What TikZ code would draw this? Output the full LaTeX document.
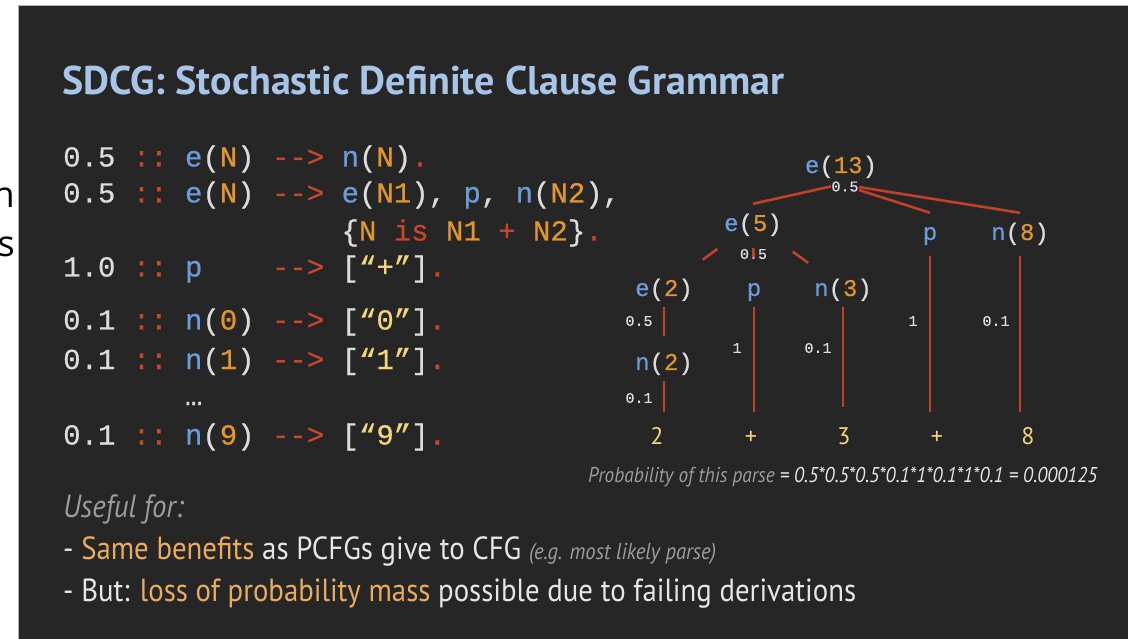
\documentclass[tikz,border=0pt]{standalone}
\usepackage{fontspec}
\usepackage{xcolor}
\setmonofont{Liberation Mono}[FakeBold=0.6]
\newfontfamily\slidefont{PT Sans}
\newfontfamily\narrowfont{PT Sans}[FakeStretch=0.9]
\newfontfamily\marginfont{Open Sans}
\definecolor{slidebg}{HTML}{262626}
\definecolor{frame}{HTML}{B4B4B4}
\definecolor{titleblue}{HTML}{A8C5E8}
\definecolor{codegray}{HTML}{DCDCDC}
\definecolor{codered}{HTML}{C8462C}
\definecolor{codeblue}{HTML}{6C9CD8}
\definecolor{codeorange}{HTML}{E0952F}
\definecolor{codeyellow}{HTML}{F2D57C}
\definecolor{accent}{HTML}{E8AC60}
\definecolor{bodywhite}{HTML}{E6E6E6}
\definecolor{mutedgray}{HTML}{9C9C9C}
\definecolor{edgered}{HTML}{C0412A}
\newcommand{\kw}[1]{\textcolor{codered}{#1}}
\newcommand{\fn}[1]{\textcolor{codeblue}{#1}}
\newcommand{\vr}[1]{\textcolor{codeorange}{#1}}
\newcommand{\lit}[1]{\textcolor{codeyellow}{#1}}
\newcommand{\hl}[1]{\textcolor{accent}{#1}}
\tikzset{code/.style={anchor=base west,inner sep=0,text=codegray,font=\fontsize{29}{34}\ttfamily},
tnode/.style={inner sep=0,inner ysep=11pt,text height=16pt,text depth=0pt,text=codegray,font=\fontsize{24}{28}\ttfamily},
leaf/.style={inner sep=0,inner ysep=15.5pt,text height=17pt,text depth=0pt,text=codeyellow,font=\slidefont\fontsize{24}{28}\selectfont},
elabel/.style={inner sep=.5pt,text=codegray,font=\fontsize{15}{18}\ttfamily},
edge/.style={edgered,line width=2.6pt},
body/.style={anchor=base west,inner sep=0,text=bodywhite,font=\narrowfont\fontsize{32}{38}\selectfont}}

\begin{document}
\begin{tikzpicture}[x=1pt,y=-1pt]
\useasboundingbox (0,0) rectangle (1128,639);
\fill[white] (0,0) rectangle (1128,639);
% cut letters of the slide before
\begin{scope}
\clip (0,0) rectangle (18,639);
\node[anchor=base east,inner sep=0,font=\marginfont\fontsize{36}{40}\selectfont] (cutn) at (15,208) {n};
\node[anchor=base east,inner sep=0,font=\marginfont\fontsize{36}{40}\selectfont] (cuts) at (15,257) {s};
\end{scope}
\fill[slidebg] (18,6) rectangle (1128,639);
\draw[frame,line width=1pt] (1128,6) -- (18,6) -- (18,639);
\node[anchor=base west,inner sep=0,text=titleblue,font=\slidefont\bfseries\fontsize{40}{46}\selectfont] (title) at (62,95) {SDCG: Stochastic Definite Clause Grammar};
% grammar rules
\node[code] (r1) at (63,166.5) {0.5 \kw{::} \fn{e}(\vr{N}) \kw{-{}->} \fn{n}(\vr{N})\kw{.}};
\node[code] (r2) at (63,202.5) {0.5 \kw{::} \fn{e}(\vr{N}) \kw{-{}->} \fn{e}(\vr{N1}), \fn{p}, \fn{n}(\vr{N2}),};
\node[code] (r2b) at (341.4,240.5) {\{\vr{N} \kw{is} \vr{N1} \kw{+} \vr{N2}\}\kw{.}};
\node[code] (r3) at (63,276.5) {1.0 \kw{::} \fn{p}~~~~\kw{-{}->} [\lit{“+”}]\kw{.}};
\node[code] (r4) at (63,329.5) {0.1 \kw{::} \fn{n}(\vr{0}) \kw{-{}->} [\lit{“0”}]\kw{.}};
\node[code] (r5) at (63,369) {0.1 \kw{::} \fn{n}(\vr{1}) \kw{-{}->} [\lit{“1”}]\kw{.}};
\node[code] (dots) at (184.8,405) {…};
\node[code] (r6) at (63,444.5) {0.1 \kw{::} \fn{n}(\vr{9}) \kw{-{}->} [\lit{“9”}]\kw{.}};
% parse tree
\node[tnode] (e13) at (841,165) {\fn{e}(\vr{13})};
\node[tnode] (e5) at (753,223) {\fn{e}(\vr{5})};
\node[tnode] (p1) at (930,232) {\fn{p}};
\node[tnode] (n8) at (1020,232) {\fn{n}(\vr{8})};
\node[tnode] (e2) at (664,288) {\fn{e}(\vr{2})};
\node[tnode] (p2) at (754,288) {\fn{p}};
\node[tnode] (n3) at (843,288) {\fn{n}(\vr{3})};
\node[tnode] (n2) at (664,362) {\fn{n}(\vr{2})};
\foreach \x/\t/\n in {657/2/l2,751/+/lp,844/3/l3,937/+/lq,1028/8/l8}
  \node[leaf] (\n) at (\x,436) {\t};
\foreach \a in {e5,p1,n8}
  \draw[edge] (e13.south) -- (\a.north);
\node[elabel,fill=slidebg] (w0) at (845,186.5) {0.5};
\draw[edge,shorten <=44pt,shorten >=48pt] (e5.center) -- (e2.center);
\draw[edge,shorten <=49pt,shorten >=43pt] (e5.center) -- (n3.center);
\node[elabel] (w5) at (753.5,254) {0.5};
\draw[edge,shorten <=25pt,shorten >=31pt] (e5.center) -- (p2.center);
\draw[edge,shorten >=7pt] (e2.south) -- (n2.north);
\foreach \a/\b/\s/\t in {n2/l2/0/0,p2/lp/0/0,n3/l3/0/5,p1/lq/5/0,n8/l8/5/0}
  \draw[edge,shorten <=\s pt,shorten >=\t pt] (\a.south) -- (\a.south |- \b.north);
\foreach \x/\y/\t [count=\i] in {639/321/0.5,639/398/0.1,737/348/1,818/348/0.1,913/321/1,996/321/0.1}
  \node[elabel] (w\i) at (\x,\y) {\t};
\node[anchor=base west,inner sep=0,text=mutedgray,font=\narrowfont\itshape\fontsize{21.4}{25}\selectfont] (parse) at (588,482) {Probability of this parse \textcolor{bodywhite}{= 0.5*0.5*0.5*0.1*1*0.1*1*0.1 = 0.000125}};
% notes
\node[body,text=mutedgray,font=\narrowfont\itshape\fontsize{32}{38}\selectfont] (useful) at (63,517) {Useful for:};
\node[body] (pro) at (63,559) {- \hl{Same benefits} as PCFGs give to CFG {\color{mutedgray}\itshape\fontsize{23}{27}\selectfont(e.g. most likely parse)}};
\node[body] (con) at (63,601) {- But: \hl{loss of probability mass} possible due to failing derivations};
\end{tikzpicture}
\end{document}
